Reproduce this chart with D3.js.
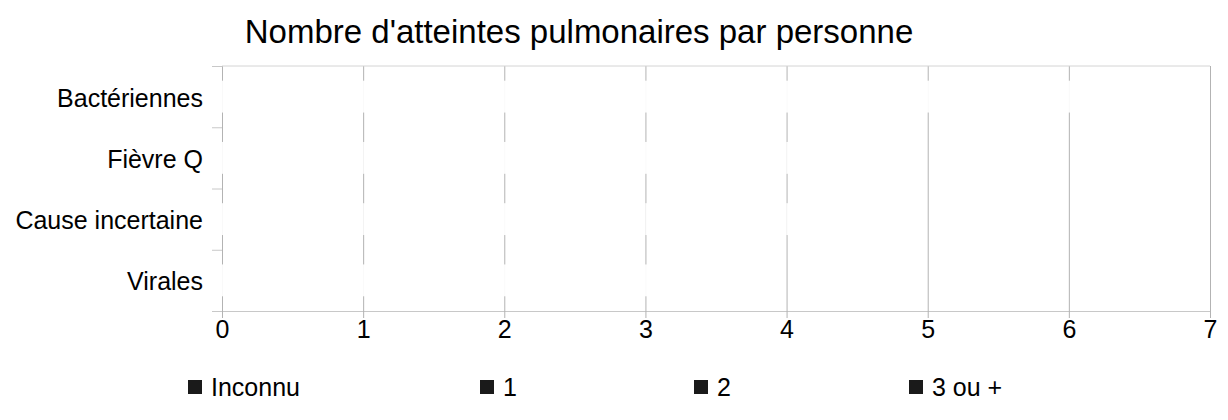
<!DOCTYPE html>
<html>
<head>
<meta charset="utf-8">
<script src="https://cdn.jsdelivr.net/npm/d3@7"></script>
<style>
  body { margin: 0; background: #fff; }
  text { font-family: "Liberation Sans", Arial, sans-serif; fill: #000; }
</style>
</head>
<body>
<svg id="chart"></svg>
<script>
var margin = {top: 66, right: 18, bottom: 109, left: 222};
var width = 1228, height = 420;

// data
var categories = ["Bactériennes", "Fièvre Q", "Cause incertaine", "Virales"];
var seriesNames = ["Inconnu", "1", "2", "3 ou +"];
var inconnu = [1.5, 1, 1, 0.5];
var un = [2, 1.5, 2, 2];
var deux = [2, 1.5, 1, 1];
var troisPlus = [1, 0.5, 0.5, 0];
var xTicks = [0, 1, 2, 3, 4, 5, 6, 7];

var rows = categories.map(function(c, i) {
    return {cat: c, "Inconnu": inconnu[i], "1": un[i], "2": deux[i], "3 ou +": troisPlus[i]};
});
var stacked = d3.stack().keys(seriesNames)(rows);

var svg = d3.select("#chart")
    .attr("width", width)
    .attr("height", height);

var x = d3.scaleLinear()
    .domain([0, 7])
    .range([margin.left, width - margin.right]);

var y = d3.scaleBand()
    .domain(categories)
    .range([margin.top, height - margin.bottom])
    .paddingInner(0.48)
    .paddingOuter(0.24);

// boundaries between categories (for tick marks)
var yb = d3.scaleLinear()
    .domain([0, categories.length])
    .range([margin.top, height - margin.bottom]);

var plotH = height - margin.bottom - margin.top;

// title
svg.append("text")
    .attr("x", 579).attr("y", 43)
    .attr("text-anchor", "middle")
    .style("font-size", "33px")
    .text("Nombre d'atteintes pulmonaires par personne");

// vertical grid lines
svg.append("g")
    .attr("transform", `translate(0, ${height - margin.bottom})`)
    .call(d3.axisBottom(x).tickValues(xTicks).tickSize(-plotH).tickFormat(""))
    .call(g => g.select(".domain").remove())
    .call(g => g.selectAll("line").attr("stroke", "#b3b3b3"));

// y tick marks at category boundaries
svg.append("g")
    .attr("transform", `translate(${margin.left}, 0)`)
    .call(d3.axisLeft(yb).tickValues(d3.range(0, categories.length + 1)).tickSize(10).tickFormat(""))
    .call(g => g.select(".domain").remove())
    .call(g => g.selectAll("line").attr("stroke", "#c8c8c8"));

svg.append("line")
    .attr("x1", margin.left).attr("x2", width - margin.right)
    .attr("y1", margin.top).attr("y2", margin.top)
    .attr("stroke", "#d4d4d4");

// bars (white, stacked)
svg.append("g")
    .selectAll("g")
    .data(stacked)
    .join("g")
    .attr("fill", "#ffffff")
    .attr("fill-opacity", 0.92)
    .selectAll("rect")
    .data(d => d)
    .join("rect")
    .attr("x", d => x(d[0]))
    .attr("width", d => x(d[1]) - x(d[0]))
    .attr("y", d => y(d.data.cat))
    .attr("height", y.bandwidth());

// x axis
svg.append("g")
    .attr("transform", `translate(0, ${height - margin.bottom})`)
    .call(d3.axisBottom(x).tickValues(xTicks).tickSize(7).tickPadding(2).tickFormat(d3.format("d")))
    .call(g => g.select(".domain").attr("stroke", "#c8c8c8"))
    .call(g => g.selectAll("line").attr("stroke", "#b3b3b3"))
    .call(g => g.selectAll("text").style("font-size", "25px").attr("fill", "#000"));

// y labels
svg.append("g")
    .attr("transform", `translate(${margin.left - 19}, 0)`)
    .call(d3.axisLeft(y).tickSize(0).tickPadding(0))
    .call(g => g.select(".domain").remove())
    .call(g => g.selectAll("text").style("font-size", "25px").attr("fill", "#000").attr("dy", "0.4em"));

// legend
var legendX = [188, 480, 694, 909];
var legend = svg.append("g")
    .selectAll("g")
    .data(seriesNames)
    .join("g")
    .attr("transform", (d, i) => `translate(${legendX[i]}, 386)`);

legend.append("rect")
    .attr("x", 0).attr("y", -6)
    .attr("width", 14).attr("height", 14)
    .attr("fill", "#1a1a1a");

legend.append("text")
    .attr("x", 23).attr("y", 10)
    .style("font-size", "25px")
    .text(d => d);
</script>
</body>
</html>
